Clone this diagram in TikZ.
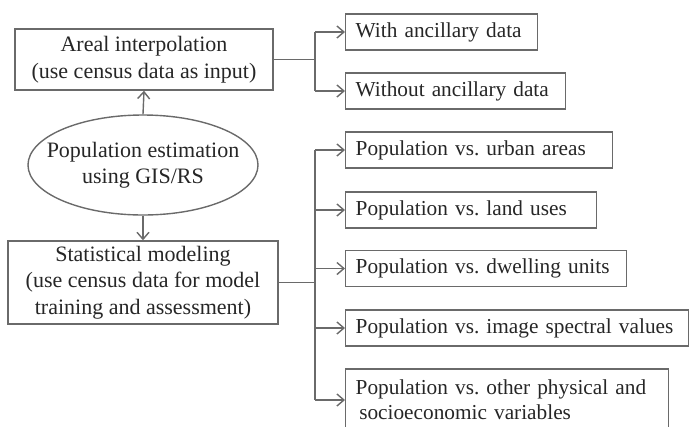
\documentclass[tikz,border=0pt]{standalone}
\usepackage{fontspec}
\setmainfont{Liberation Serif}
\usepackage{tikz}
\usetikzlibrary{positioning}
\usetikzlibrary{shapes.geometric}
\usetikzlibrary{arrows.meta}
\definecolor{linegray}{HTML}{6A6A6A}
\definecolor{textgray}{HTML}{262626}

\tikzset{
  every node/.style={text=textgray, font=\fontsize{21.3}{25}\selectfont},
  bigtext/.style={font=\fontsize{22}{26.5}\selectfont},
  mainbox/.style={draw=linegray, line width=1.4pt, align=center, inner sep=0pt, bigtext},
  rbox/.style={draw=linegray, line width=1.4pt, anchor=west, align=left,
    inner xsep=10pt, inner ysep=0pt, minimum height=36pt, text width=#1},
  link/.style={draw=linegray, line width=1.4pt},
  arr/.style={link, -{Straight Barb[length=7pt, width=12pt]}}
}

\begin{document}
\begin{tikzpicture}[x=1pt, y=-1pt]
  \useasboundingbox (0,0) rectangle (690,426);

  % left column
  \node[mainbox, minimum width=258pt, minimum height=61pt] (areal) at (144, 59.5)
    {Areal interpolation\\(use census data as input)};
  \node[draw=linegray, line width=1.4pt, ellipse, minimum width=230pt, minimum height=100pt,
    inner xsep=-20pt, inner ysep=0pt, align=center, bigtext] (popest) at (143, 165)
    {Population estimation\\using GIS/RS};
  \node[mainbox, minimum width=270pt, minimum height=83pt] (stat) at (143, 282.5)
    {Statistical modeling\\(use census data for model\\ training and assessment)};

  % right column
  \node[rbox=172pt] (withanc) at (345, 32) {With ancillary data};
  \node[rbox=200pt] (withoutanc) at (345, 91) {Without ancillary data};
  \node[rbox=247pt] (urban) at (345, 150) {Population vs.\ urban areas};
  \node[rbox=231pt] (landuse) at (345, 210) {Population vs.\ land uses};
  \node[rbox=261pt] (dwelling) at (345, 268.5) {Population vs.\ dwelling units};
  \node[rbox=323pt] (spectral) at (345, 328) {Population vs.\ image spectral values};
  \node[rbox=303pt, minimum height=62pt] (other) at (345, 400)
    {Population vs.\ other physical and\\ \,socioeconomic variables};

  % branch points
  \coordinate (jtop) at (315, 59.5);
  \coordinate (jbot) at (315, 282.5);

  % connectors
  \draw[arr] (popest.north) -- (areal.south);
  \draw[arr] (popest.south) -- (stat.north);

  \draw[link] (areal.east) -- (jtop);
  \draw[link] (jtop |- withanc.west) -- (jtop |- withoutanc.west);
  \foreach \n in {withanc, withoutanc}
    \draw[arr] (jtop |- \n.west) -- (\n.west);

  \draw[link] (stat.east) -- (jbot);
  \draw[link] (jbot |- urban.west) -- (jbot |- other.west);
  \foreach \n in {urban, landuse, dwelling, spectral, other}
    \draw[arr] (jbot |- \n.west) -- (\n.west);
\end{tikzpicture}
\end{document}
